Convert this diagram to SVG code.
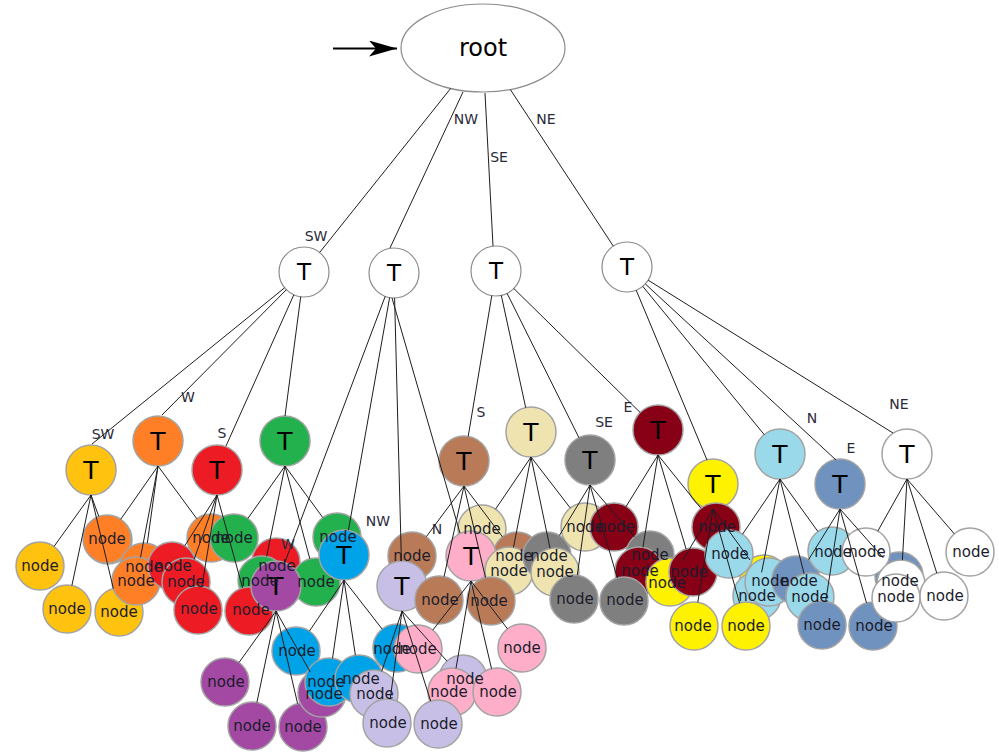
<svg xmlns="http://www.w3.org/2000/svg" width="999" height="752" viewBox="0 0 999 752">
<defs>
<style>
  .node circle, .node ellipse { stroke: #a3a3a3; stroke-width: 1.5; }
  .top circle, .top ellipse { fill: #ffffff; stroke: #8c8c8c; stroke-width: 1.2; }
  .gold { fill: #FFC20E; } .orange { fill: #FF7F27; } .red { fill: #ED1C24; } .green { fill: #22B14C; }
  .purple { fill: #A349A4; } .blue { fill: #00A2E8; } .lavender { fill: #C8BFE7; } .pink { fill: #FFAEC9; }
  .brown { fill: #B97A57; } .beige { fill: #EFE4B0; } .gray { fill: #7F7F7F; } .darkred { fill: #880015; }
  .yellow { fill: #FFF200; } .lightblue { fill: #99D9EA; } .steel { fill: #7092BE; } .white { fill: #FFFFFF; }
  #connectors line { stroke: #1e1e1e; stroke-width: 1; }
  text { font-family: "DejaVu Sans", "Liberation Sans", sans-serif; text-anchor: middle; }
  .nl { font-size: 15px; fill: #1c1c2c; dominant-baseline: central; }
  .tl { font-size: 25px; fill: #000; dominant-baseline: central; }
  .tl1 { font-size: 23px; fill: #000; dominant-baseline: central; }
  .el { font-size: 14px; fill: #2a2a3a; dominant-baseline: central; }
</style>
<marker id="arrowhead" viewBox="0 0 28 16" refX="28" refY="8" markerWidth="28" markerHeight="16" markerUnits="userSpaceOnUse" orient="auto">
  <path d="M0,0 L28,8 L0,16 L7,8 Z" fill="#000"/>
</marker>
</defs>

<!-- entry arrow -->
<g id="entry">
  <line x1="333" y1="48.5" x2="397" y2="48.5" stroke="#000" stroke-width="2" marker-end="url(#arrowhead)"/>
</g>

<g id="nodes">
  <g id="root" class="node top"><ellipse cx="483" cy="48" rx="82" ry="44"/></g>
  <g id="q-sw" class="node top"><circle cx="304" cy="272" r="25"/></g>
  <g id="q-nw" class="node top"><circle cx="394" cy="273" r="25"/></g>
  <g id="q-se" class="node top"><circle cx="496" cy="271" r="25"/></g>
  <g id="q-ne" class="node top"><circle cx="627" cy="267" r="25"/></g>

  <g id="t-gold" class="node"><circle class="gold" cx="91" cy="470" r="25"/></g>
  <g id="gold-4" class="node"><circle class="gold" cx="108" cy="540" r="24"/></g>
  <g id="gold-1" class="node"><circle class="gold" cx="40" cy="566" r="24"/></g>
  <g id="gold-2" class="node"><circle class="gold" cx="67" cy="609" r="24"/></g>
  <g id="gold-3" class="node"><circle class="gold" cx="119" cy="612" r="24"/></g>

  <g id="t-orange" class="node"><circle class="orange" cx="158" cy="441" r="25"/></g>
  <g id="orange-1" class="node"><circle class="orange" cx="107" cy="539" r="24"/></g>
  <g id="orange-2" class="node"><circle class="orange" cx="144" cy="567" r="24"/></g>
  <g id="orange-3" class="node"><circle class="orange" cx="136" cy="581" r="24"/></g>
  <g id="orange-4" class="node"><circle class="orange" cx="211" cy="538" r="24"/></g>

  <g id="t-red" class="node"><circle class="red" cx="217" cy="470" r="25"/></g>
  <g id="red-5" class="node"><circle class="red" cx="276" cy="562" r="24"/></g>

  <g id="t-green" class="node"><circle class="green" cx="285" cy="441" r="25"/></g>
  <g id="green-1" class="node"><circle class="green" cx="234" cy="538" r="24"/></g>
  <g id="green-2" class="node"><circle class="green" cx="262" cy="580" r="24"/></g>
  <g id="green-3" class="node"><circle class="green" cx="316" cy="582" r="24"/></g>
  <g id="green-4" class="node"><circle class="green" cx="337" cy="537" r="24"/></g>

  <g id="red-1" class="node"><circle class="red" cx="172" cy="566" r="24"/></g>
  <g id="red-2" class="node"><circle class="red" cx="186" cy="582" r="24"/></g>
  <g id="red-3" class="node"><circle class="red" cx="198" cy="610" r="24"/></g>
  <g id="red-4" class="node"><circle class="red" cx="249" cy="611" r="24"/></g>

  <g id="t-purple" class="node"><circle class="purple" cx="276" cy="586" r="25"/></g>
  <g id="purple-1" class="node"><circle class="purple" cx="225" cy="682" r="24"/></g>
  <g id="purple-2" class="node"><circle class="purple" cx="252" cy="726" r="24"/></g>
  <g id="purple-3" class="node"><circle class="purple" cx="303" cy="727" r="24"/></g>
  <g id="purple-4" class="node"><circle class="purple" cx="322" cy="693" r="24"/></g>

  <g id="t-blue" class="node"><circle class="blue" cx="344" cy="555" r="25"/></g>
  <g id="blue-1" class="node"><circle class="blue" cx="296" cy="651" r="24"/></g>
  <g id="blue-2" class="node"><circle class="blue" cx="329" cy="682" r="24"/></g>
  <g id="blue-3" class="node"><circle class="blue" cx="359" cy="679" r="24"/></g>
  <g id="blue-4" class="node"><circle class="blue" cx="397" cy="648" r="24"/></g>

  <g id="t-brown" class="node"><circle class="brown" cx="464" cy="461" r="25"/></g>
  <g id="brown-1" class="node"><circle class="brown" cx="412" cy="556" r="24"/></g>
  <g id="t-beige" class="node"><circle class="beige" cx="531" cy="432" r="25"/></g>
  <g id="beige-1" class="node"><circle class="beige" cx="482" cy="529" r="24"/></g>
  <g id="brown-4" class="node"><circle class="brown" cx="517" cy="556" r="24"/></g>
  <g id="t-lavender" class="node"><circle class="lavender" cx="402" cy="586" r="25"/></g>
  <g id="brown-2" class="node"><circle class="brown" cx="439" cy="600" r="24"/></g>
  <g id="lavender-1" class="node"><circle class="lavender" cx="374" cy="694" r="24"/></g>
  <g id="lavender-2" class="node"><circle class="lavender" cx="387" cy="723" r="24"/></g>
  <g id="lavender-4" class="node"><circle class="lavender" cx="463" cy="679" r="24"/></g>

  <g id="t-pink" class="node"><circle class="pink" cx="471" cy="556" r="25"/></g>
  <g id="beige-2" class="node"><circle class="beige" cx="509" cy="571" r="24"/></g>
  <g id="brown-3" class="node"><circle class="brown" cx="491" cy="601" r="24"/></g>
  <g id="pink-1" class="node"><circle class="pink" cx="418" cy="649" r="24"/></g>
  <g id="pink-2" class="node"><circle class="pink" cx="452" cy="692" r="24"/></g>
  <g id="lavender-3" class="node"><circle class="lavender" cx="438" cy="724" r="24"/></g>
  <g id="pink-3" class="node"><circle class="pink" cx="522" cy="648" r="24"/></g>
  <g id="pink-4" class="node"><circle class="pink" cx="497" cy="692" r="24"/></g>

  <g id="t-gray" class="node"><circle class="gray" cx="590" cy="460" r="25"/></g>
  <g id="gray-1" class="node"><circle class="gray" cx="547" cy="556" r="24"/></g>
  <g id="beige-3" class="node"><circle class="beige" cx="555" cy="572" r="24"/></g>
  <g id="gray-2" class="node"><circle class="gray" cx="574" cy="599" r="24"/></g>
  <g id="beige-4" class="node"><circle class="beige" cx="585" cy="527" r="24"/></g>

  <g id="t-darkred" class="node"><circle class="darkred" cx="658" cy="430" r="25"/></g>
  <g id="darkred-1" class="node"><circle class="darkred" cx="614" cy="527" r="24"/></g>
  <g id="gray-4" class="node"><circle class="gray" cx="650" cy="555" r="24"/></g>
  <g id="darkred-2" class="node"><circle class="darkred" cx="639" cy="571" r="24"/></g>
  <g id="gray-3" class="node"><circle class="gray" cx="624" cy="601" r="24"/></g>
  <g id="yellow-1" class="node"><circle class="yellow" cx="670" cy="582" r="24"/></g>
  <g id="darkred-3" class="node"><circle class="darkred" cx="693" cy="572" r="24"/></g>

  <g id="t-yellow" class="node"><circle class="yellow" cx="713" cy="484" r="25"/></g>
  <g id="darkred-4" class="node"><circle class="darkred" cx="716" cy="527" r="24"/></g>
  <g id="yellow-2" class="node"><circle class="yellow" cx="694" cy="626" r="24"/></g>
  <g id="yellow-4" class="node"><circle class="yellow" cx="764" cy="579" r="24"/></g>

  <g id="t-lightblue" class="node"><circle class="lightblue" cx="780" cy="454" r="25"/></g>
  <g id="lightblue-1" class="node"><circle class="lightblue" cx="729" cy="554" r="24"/></g>
  <g id="lightblue-2" class="node"><circle class="lightblue" cx="757" cy="596" r="24"/></g>
  <g id="lightblue-3" class="node"><circle class="lightblue" cx="769" cy="582" r="24"/></g>
  <g id="yellow-3" class="node"><circle class="yellow" cx="746" cy="626" r="24"/></g>
  <g id="steel-4" class="node"><circle class="steel" cx="796" cy="580" r="24"/></g>
  <g id="lightblue-4" class="node"><circle class="lightblue" cx="810" cy="597" r="24"/></g>
  <g id="steel-2" class="node"><circle class="steel" cx="822" cy="625" r="24"/></g>
  <g id="lightblue-5" class="node"><circle class="lightblue" cx="832" cy="551" r="24"/></g>

  <g id="t-steel" class="node"><circle class="steel" cx="840" cy="484" r="25"/></g>
  <g id="t-white" class="node"><circle class="white" cx="907" cy="454" r="25"/></g>
  <g id="steel-3" class="node"><circle class="steel" cx="899" cy="576" r="24"/></g>
  <g id="white-3" class="node"><circle class="white" cx="866" cy="552" r="24"/></g>
  <g id="steel-1" class="node"><circle class="steel" cx="873" cy="626" r="24"/></g>
  <g id="white-4" class="node"><circle class="white" cx="901" cy="584" r="24"/></g>
  <g id="white-5" class="node"><circle class="white" cx="896" cy="598" r="24"/></g>
  <g id="white-1" class="node"><circle class="white" cx="970" cy="552" r="24"/></g>
  <g id="white-2" class="node"><circle class="white" cx="944" cy="596" r="24"/></g>
</g>

<g id="connectors">
  <!-- root to quadrants -->
  <line x1="450.7" y1="88.4" x2="319.6" y2="252.5"/>
  <line x1="463" y1="92" x2="390" y2="248"/>
  <line x1="485" y1="93" x2="493" y2="246"/>
  <line x1="510.3" y1="89.5" x2="613.3" y2="246.1"/>
  <!-- quadrant SW -->
  <line x1="284.6" y1="287.8" x2="92" y2="444"/>
  <line x1="286.4" y1="289.7" x2="162" y2="415"/>
  <line x1="293.8" y1="294.8" x2="226" y2="446"/>
  <line x1="300.7" y1="296.8" x2="285" y2="416"/>
  <!-- quadrant NW -->
  <line x1="385.2" y1="296.4" x2="284.8" y2="562.6"/>
  <line x1="389.6" y1="297.6" x2="348.4" y2="530.4"/>
  <line x1="394.6" y1="298" x2="401.4" y2="561"/>
  <line x1="392" y1="298" x2="460" y2="533"/>
  <!-- quadrant SE -->
  <line x1="491.8" y1="295.6" x2="468.2" y2="436.4"/>
  <line x1="501.3" y1="295.4" x2="525.7" y2="407.6"/>
  <line x1="507.1" y1="293.4" x2="578.9" y2="437.6"/>
  <line x1="513.8" y1="288.5" x2="640.2" y2="412.5"/>
  <!-- quadrant NE -->
  <line x1="636.2" y1="290.2" x2="707" y2="460"/>
  <line x1="642.8" y1="286.4" x2="764.2" y2="434.6"/>
  <line x1="645.4" y1="284" x2="836" y2="460"/>
  <line x1="648.2" y1="280.2" x2="893" y2="433"/>
  <!-- leaves -->
  <line x1="91" y1="495" x2="54" y2="546.5"/>
  <line x1="91" y1="495" x2="71.9" y2="585.5"/>
  <line x1="91" y1="495" x2="113.4" y2="588.7"/>
  <line x1="91" y1="495" x2="98.8" y2="516.4"/>
  <line x1="158" y1="466" x2="120.7" y2="519.3"/>
  <line x1="158" y1="466" x2="147.3" y2="543.2"/>
  <line x1="158" y1="466" x2="140.5" y2="557.4"/>
  <line x1="158" y1="466" x2="196.8" y2="518.7"/>
  <line x1="217" y1="495" x2="184.8" y2="545.7"/>
  <line x1="217" y1="495" x2="194.1" y2="559.4"/>
  <line x1="217" y1="495" x2="201.9" y2="586.3"/>
  <line x1="217" y1="495" x2="242.6" y2="587.9"/>
  <line x1="285" y1="466" x2="247.9" y2="518.4"/>
  <line x1="285" y1="466" x2="266.7" y2="556.5"/>
  <line x1="285" y1="466" x2="309.8" y2="558.8"/>
  <line x1="285" y1="466" x2="322.8" y2="517.6"/>
  <line x1="276" y1="611" x2="239" y2="662.5"/>
  <line x1="276" y1="611" x2="256.9" y2="702.5"/>
  <line x1="276" y1="611" x2="297.6" y2="703.6"/>
  <line x1="276" y1="611" x2="310.3" y2="672.1"/>
  <line x1="344" y1="580" x2="309.4" y2="631.1"/>
  <line x1="344" y1="580" x2="332.5" y2="658.3"/>
  <line x1="344" y1="580" x2="355.4" y2="655.3"/>
  <line x1="344" y1="580" x2="382.2" y2="629.1"/>
  <line x1="402" y1="611" x2="381.7" y2="671.3"/>
  <line x1="402" y1="611" x2="390.2" y2="699.2"/>
  <line x1="402" y1="611" x2="430.7" y2="701.1"/>
  <line x1="402" y1="611" x2="447" y2="661.1"/>
  <line x1="471" y1="581" x2="432.8" y2="630.1"/>
  <line x1="471" y1="581" x2="456" y2="668.3"/>
  <line x1="471" y1="581" x2="507.5" y2="628.9"/>
  <line x1="471" y1="581" x2="491.5" y2="668.6"/>
  <line x1="464" y1="486" x2="426.3" y2="536.7"/>
  <line x1="464" y1="486" x2="444.1" y2="576.5"/>
  <line x1="464" y1="486" x2="485.5" y2="577.6"/>
  <line x1="464" y1="486" x2="502.5" y2="536.9"/>
  <line x1="531" y1="457" x2="495.5" y2="509.2"/>
  <line x1="531" y1="457" x2="513.5" y2="547.4"/>
  <line x1="531" y1="457" x2="550.1" y2="548.5"/>
  <line x1="531" y1="457" x2="570.3" y2="508"/>
  <line x1="590" y1="485" x2="559.4" y2="535.5"/>
  <line x1="590" y1="485" x2="577.3" y2="575.2"/>
  <line x1="590" y1="485" x2="617.3" y2="578"/>
  <line x1="590" y1="485" x2="634.4" y2="536.8"/>
  <line x1="658" y1="455" x2="625.9" y2="506.8"/>
  <line x1="658" y1="455" x2="642.9" y2="547.3"/>
  <line x1="658" y1="455" x2="686.1" y2="549"/>
  <line x1="658" y1="455" x2="700.9" y2="508.3"/>
  <line x1="713" y1="509" x2="682.5" y2="560.9"/>
  <line x1="713" y1="509" x2="697.8" y2="602.3"/>
  <line x1="713" y1="509" x2="739.5" y2="602.9"/>
  <line x1="713" y1="509" x2="750" y2="560"/>
  <line x1="780" y1="479" x2="742.5" y2="534.2"/>
  <line x1="780" y1="479" x2="761.6" y2="572.4"/>
  <line x1="780" y1="479" x2="804.1" y2="573.8"/>
  <line x1="780" y1="479" x2="817.9" y2="531.5"/>
  <line x1="840" y1="509" x2="808.6" y2="559.6"/>
  <line x1="840" y1="509" x2="825.7" y2="601.3"/>
  <line x1="840" y1="509" x2="866.5" y2="602.9"/>
  <line x1="840" y1="509" x2="883.4" y2="558"/>
  <line x1="907" y1="479" x2="877.8" y2="531.1"/>
  <line x1="907" y1="479" x2="902.4" y2="560"/>
  <line x1="907" y1="479" x2="936.8" y2="573.1"/>
  <line x1="907" y1="479" x2="954.3" y2="533.8"/>
</g>

<g id="labels">
  <text class="tl1" x="483" y="48" style="font-size:24px">root</text>
  <text class="tl1" x="304" y="272">T</text>
  <text class="tl1" x="394" y="273">T</text>
  <text class="tl1" x="496" y="271">T</text>
  <text class="tl1" x="627" y="267">T</text>

  <text class="tl" x="91" y="470">T</text>
  <text class="tl" x="158" y="441">T</text>
  <text class="tl" x="217" y="470">T</text>
  <text class="tl" x="285" y="441">T</text>
  <text class="tl" x="276" y="586">T</text>
  <text class="tl" x="344" y="555">T</text>
  <text class="tl" x="402" y="586">T</text>
  <text class="tl" x="471" y="556">T</text>
  <text class="tl" x="464" y="461">T</text>
  <text class="tl" x="531" y="432">T</text>
  <text class="tl" x="590" y="460">T</text>
  <text class="tl" x="658" y="430">T</text>
  <text class="tl" x="713" y="484">T</text>
  <text class="tl" x="780" y="454">T</text>
  <text class="tl" x="840" y="484">T</text>
  <text class="tl" x="907" y="454">T</text>

  <text class="nl" x="40" y="566">node</text>
  <text class="nl" x="67" y="609">node</text>
  <text class="nl" x="119" y="612">node</text>
  <text class="nl" x="107" y="539">node</text>
  <text class="nl" x="144" y="567">node</text>
  <text class="nl" x="136" y="581">node</text>
  <text class="nl" x="211" y="538">node</text>
  <text class="nl" x="277" y="566">node</text>
  <text class="nl" x="234" y="538">node</text>
  <text class="nl" x="260" y="581">node</text>
  <text class="nl" x="316" y="582">node</text>
  <text class="nl" x="338" y="537">node</text>
  <text class="nl" x="173" y="566">node</text>
  <text class="nl" x="186" y="582">node</text>
  <text class="nl" x="199" y="609">node</text>
  <text class="nl" x="251" y="610">node</text>
  <text class="nl" x="226" y="682">node</text>
  <text class="nl" x="252" y="726">node</text>
  <text class="nl" x="303" y="727">node</text>
  <text class="nl" x="324" y="694">node</text>
  <text class="nl" x="297" y="651">node</text>
  <text class="nl" x="326" y="682">node</text>
  <text class="nl" x="361" y="679">node</text>
  <text class="nl" x="392" y="649">node</text>
  <text class="nl" x="412" y="556">node</text>
  <text class="nl" x="482" y="529">node</text>
  <text class="nl" x="514" y="556">node</text>
  <text class="nl" x="440" y="600">node</text>
  <text class="nl" x="375" y="694">node</text>
  <text class="nl" x="388" y="723">node</text>
  <text class="nl" x="465" y="679">node</text>
  <text class="nl" x="509" y="571">node</text>
  <text class="nl" x="489" y="601">node</text>
  <text class="nl" x="418" y="649">node</text>
  <text class="nl" x="449" y="692">node</text>
  <text class="nl" x="439" y="724">node</text>
  <text class="nl" x="522" y="648">node</text>
  <text class="nl" x="498" y="692">node</text>
  <text class="nl" x="549" y="556">node</text>
  <text class="nl" x="555" y="572">node</text>
  <text class="nl" x="575" y="599">node</text>
  <text class="nl" x="585" y="527">node</text>
  <text class="nl" x="616" y="527">node</text>
  <text class="nl" x="650" y="555">node</text>
  <text class="nl" x="640" y="571">node</text>
  <text class="nl" x="625" y="600">node</text>
  <text class="nl" x="667" y="583">node</text>
  <text class="nl" x="689" y="572">node</text>
  <text class="nl" x="717" y="527">node</text>
  <text class="nl" x="693" y="626">node</text>
  <text class="nl" x="746" y="626">node</text>
  <text class="nl" x="730" y="554">node</text>
  <text class="nl" x="757" y="596">node</text>
  <text class="nl" x="770" y="581">node</text>
  <text class="nl" x="799" y="581">node</text>
  <text class="nl" x="810" y="597">node</text>
  <text class="nl" x="822" y="625">node</text>
  <text class="nl" x="833" y="552">node</text>
  <text class="nl" x="867" y="552">node</text>
  <text class="nl" x="874" y="626">node</text>
  <text class="nl" x="900" y="581">node</text>
  <text class="nl" x="896" y="597">node</text>
  <text class="nl" x="971" y="552">node</text>
  <text class="nl" x="945" y="596">node</text>
</g>

<g id="edge-labels">
  <text class="el" x="316" y="236">SW</text>
  <text class="el" x="466" y="119">NW</text>
  <text class="el" x="499" y="157">SE</text>
  <text class="el" x="546" y="119">NE</text>
  <text class="el" x="103" y="434">SW</text>
  <text class="el" x="188" y="397">W</text>
  <text class="el" x="222" y="433">S</text>
  <text class="el" x="288" y="544">W</text>
  <text class="el" x="378" y="521">NW</text>
  <text class="el" x="437" y="529">N</text>
  <text class="el" x="481" y="412">S</text>
  <text class="el" x="604" y="422">SE</text>
  <text class="el" x="628" y="407">E</text>
  <text class="el" x="812" y="418">N</text>
  <text class="el" x="851" y="448">E</text>
  <text class="el" x="899" y="404">NE</text>
</g>
</svg>
